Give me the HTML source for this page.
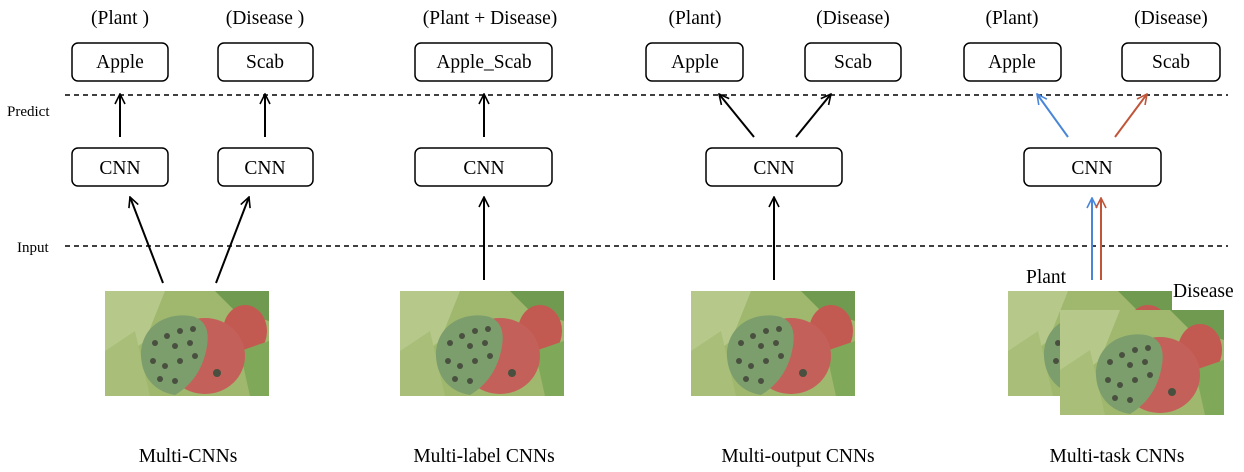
<!DOCTYPE html>
<html><head><meta charset="utf-8"><style>
html,body{margin:0;padding:0;background:#fff;}
svg{display:block;font-family:"Liberation Serif",serif;}
</style></head><body>
<svg width="1244" height="472" viewBox="0 0 1244 472" xmlns="http://www.w3.org/2000/svg">
<defs>
<marker id="ak" viewBox="0 0 12 12" refX="11" refY="6" markerWidth="12" markerHeight="12" markerUnits="userSpaceOnUse" orient="auto"><path d="M1,1 L11,6 L1,11" fill="none" stroke="#000" stroke-width="1.6"/></marker>
<marker id="ab" viewBox="0 0 12 12" refX="11" refY="6" markerWidth="12" markerHeight="12" markerUnits="userSpaceOnUse" orient="auto"><path d="M1,1 L11,6 L1,11" fill="none" stroke="#4a86d8" stroke-width="1.6"/></marker>
<marker id="ar" viewBox="0 0 12 12" refX="11" refY="6" markerWidth="12" markerHeight="12" markerUnits="userSpaceOnUse" orient="auto"><path d="M1,1 L11,6 L1,11" fill="none" stroke="#c0553a" stroke-width="1.6"/></marker>
<g id="img">
<rect width="164" height="105" fill="#9fb86e"/>
<path d="M0,0 L60,0 L40,50 L0,80Z" fill="#b7c98a"/>
<path d="M0,60 L30,40 L45,105 L0,105Z" fill="#a9be78"/>
<path d="M110,0 L164,0 L164,30 L130,20Z" fill="#6f9a50"/>
<ellipse cx="140" cy="40" rx="22" ry="26" fill="#c35a52"/>
<path d="M135,60 L164,50 L164,105 L145,105Z" fill="#7fa858"/>
<ellipse cx="100" cy="65" rx="40" ry="38" fill="#c4605a"/>
<path d="M70,25 C92,22 106,30 102,55 C98,80 85,95 70,104 C45,100 35,80 36,60 C38,40 52,28 70,25Z" fill="#7c9e6c"/>
<g fill="#4a5040">
<circle cx="50" cy="52" r="3"/><circle cx="62" cy="45" r="3"/><circle cx="75" cy="40" r="3"/><circle cx="88" cy="38" r="3"/><circle cx="70" cy="55" r="3"/><circle cx="85" cy="52" r="3"/><circle cx="48" cy="70" r="3"/><circle cx="60" cy="75" r="3"/><circle cx="75" cy="70" r="3"/><circle cx="90" cy="65" r="3"/><circle cx="55" cy="88" r="3"/><circle cx="70" cy="90" r="3"/><circle cx="112" cy="82" r="4"/>
</g>
</g>
</defs>
<g font-size="19.5" text-anchor="middle" fill="#000">
<text x="120" y="24">(Plant )</text>
<text x="265" y="24">(Disease )</text>
<text x="490" y="24">(Plant + Disease)</text>
<text x="695" y="24">(Plant)</text>
<text x="853" y="24">(Disease)</text>
<text x="1012" y="24">(Plant)</text>
<text x="1171" y="24">(Disease)</text>
</g>
<g fill="#fff" stroke="#000" stroke-width="1.5">
<rect x="72" y="43" width="96" height="38" rx="6"/>
<rect x="218" y="43" width="95" height="38" rx="6"/>
<rect x="415" y="43" width="137" height="38" rx="6"/>
<rect x="646" y="43" width="97" height="38" rx="6"/>
<rect x="805" y="43" width="96" height="38" rx="6"/>
<rect x="964" y="43" width="97" height="38" rx="6"/>
<rect x="1122" y="43" width="98" height="38" rx="6"/>
<rect x="72" y="148" width="96" height="38" rx="6"/>
<rect x="218" y="148" width="95" height="38" rx="6"/>
<rect x="415" y="148" width="137" height="38" rx="6"/>
<rect x="706" y="148" width="136" height="38" rx="6"/>
<rect x="1024" y="148" width="137" height="38" rx="6"/>
</g>
<g font-size="19.5" text-anchor="middle">
<text x="120" y="68">Apple</text>
<text x="265" y="68">Scab</text>
<text x="484" y="68">Apple_Scab</text>
<text x="695" y="68">Apple</text>
<text x="853" y="68">Scab</text>
<text x="1012" y="68">Apple</text>
<text x="1171" y="68">Scab</text>
<text x="120" y="174">CNN</text>
<text x="265" y="174">CNN</text>
<text x="484" y="174">CNN</text>
<text x="774" y="174">CNN</text>
<text x="1092" y="174">CNN</text>
</g>
<g stroke="#000" stroke-width="1.6" stroke-dasharray="5,4">
<line x1="65" y1="95" x2="1228" y2="95"/>
<line x1="65" y1="246" x2="1228" y2="246"/>
</g>
<text x="7" y="116" font-size="15">Predict</text>
<text x="17" y="252" font-size="15">Input</text>
<g stroke="#000" stroke-width="2" fill="none" marker-end="url(#ak)">
<line x1="120" y1="137" x2="120" y2="94"/>
<line x1="265" y1="137" x2="265" y2="94"/>
<line x1="163" y1="283" x2="130" y2="197"/>
<line x1="216" y1="283" x2="249" y2="197"/>
<line x1="484" y1="137" x2="484" y2="94"/>
<line x1="484" y1="280" x2="484" y2="197"/>
<line x1="774" y1="280" x2="774" y2="197"/>
<line x1="754" y1="137" x2="719" y2="94"/>
<line x1="796" y1="137" x2="831" y2="94"/>
</g>
<line x1="1068" y1="137" x2="1037" y2="94" stroke="#4a86d8" stroke-width="2" marker-end="url(#ab)"/>
<line x1="1092" y1="280" x2="1092" y2="198" stroke="#4a86d8" stroke-width="2" marker-end="url(#ab)"/>
<line x1="1115" y1="137" x2="1147" y2="94" stroke="#c0553a" stroke-width="2" marker-end="url(#ar)"/>
<line x1="1101" y1="280" x2="1101" y2="198" stroke="#c0553a" stroke-width="2" marker-end="url(#ar)"/>
<use href="#img" x="105" y="291"/>
<use href="#img" x="400" y="291"/>
<use href="#img" x="691" y="291"/>
<use href="#img" x="1008" y="291"/>
<use href="#img" x="1060" y="310"/>
<text x="1026" y="283" font-size="19.5">Plant</text>
<text x="1173" y="297" font-size="19.5">Disease</text>
<g font-size="19.5" text-anchor="middle">
<text x="188" y="462">Multi-CNNs</text>
<text x="484" y="462">Multi-label CNNs</text>
<text x="798" y="462">Multi-output CNNs</text>
<text x="1117" y="462">Multi-task CNNs</text>
</g>
</svg>
</body></html>
